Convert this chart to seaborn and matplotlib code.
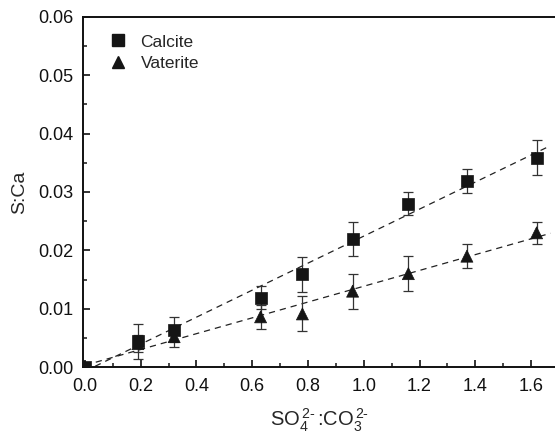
import numpy as np
import pandas as pd
import matplotlib
matplotlib.use("Agg")
import matplotlib.pyplot as plt
import seaborn as sns
from matplotlib.ticker import MultipleLocator, FormatStrFormatter
from matplotlib.lines import Line2D

ratio = [0.0, 0.19, 0.32, 0.63, 0.78, 0.96, 1.16, 1.37, 1.62]
calcite = [0.0, 0.0044, 0.0064, 0.0119, 0.0159, 0.0219, 0.0280, 0.0319, 0.0359]
calcite_err = [0.0, 0.0030, 0.0021, 0.0020, 0.0030, 0.0029, 0.0020, 0.0020, 0.0030]
vaterite = [0.0, 0.0040, 0.0052, 0.0086, 0.0091, 0.0130, 0.0160, 0.0190, 0.0230]
vaterite_err = [0.0, 0.0015, 0.0017, 0.0021, 0.0030, 0.0030, 0.0030, 0.0021, 0.0019]

sns.set_style("ticks")
plt.rcParams['font.family'] = ['Liberation Sans', 'DejaVu Sans']
plt.rcParams['mathtext.fontset'] = 'custom'
plt.rcParams['mathtext.rm'] = 'Liberation Sans'
plt.rcParams['mathtext.it'] = 'Liberation Sans'

df = pd.DataFrame({
    "x": ratio * 2,
    "y": calcite + vaterite,
    "err": calcite_err + vaterite_err,
    "phase": ["Calcite"] * len(ratio) + ["Vaterite"] * len(ratio),
})

fig = plt.figure(figsize=(5.55, 4.34), dpi=100)
ax = fig.add_axes([83/555, 67/434, 472/555, 350/434])

# fit lines
xfit = np.linspace(0, 1.67, 50)
for name in ["Calcite", "Vaterite"]:
    sub = df[df.phase == name]
    k, b = np.polyfit(sub.x, sub.y, 1)
    sns.lineplot(x=xfit, y=k * xfit + b, ax=ax, color="#222222", lw=0.9,
                 linestyle=(0, (5, 4)), legend=False)

# error bars
for name in ["Calcite", "Vaterite"]:
    sub = df[(df.phase == name) & (df.err > 0)]
    ax.errorbar(sub.x, sub.y, yerr=sub.err, fmt='none', ecolor="#333333",
                elinewidth=0.9, capsize=3.5, capthick=0.9, zorder=3)

sns.scatterplot(data=df, x="x", y="y", style="phase", markers={"Calcite": "s", "Vaterite": "^"},
                color="#151515", s=75, edgecolor="#151515", linewidth=0.5, ax=ax,
                legend=False, zorder=4)

handles = [Line2D([], [], marker="s", color="#151515", ls="none", markersize=8),
           Line2D([], [], marker="^", color="#151515", ls="none", markersize=9)]
ax.legend(handles, ["Calcite", "Vaterite"], loc="upper left", frameon=False,
          fontsize=12.5, handlelength=1.0, handletextpad=0.8, labelspacing=0.35,
          bbox_to_anchor=(0.03, 0.985), borderaxespad=0.3)

ax.set_xlim(-0.007, 1.686)
ax.set_ylim(0, 0.06)
ax.xaxis.set_major_locator(MultipleLocator(0.2))
ax.xaxis.set_minor_locator(MultipleLocator(0.1))
ax.yaxis.set_major_locator(MultipleLocator(0.01))
ax.yaxis.set_minor_locator(MultipleLocator(0.005))
ax.xaxis.set_major_formatter(FormatStrFormatter('%.1f'))
ax.yaxis.set_major_formatter(FormatStrFormatter('%.2f'))
ax.tick_params(axis='both', which='major', direction='in', length=5, width=1.2,
               labelsize=13, colors='#111111')
ax.tick_params(axis='x', which='major', pad=8)
ax.tick_params(axis='y', which='major', pad=7)
ax.tick_params(axis='both', which='minor', direction='in', length=3, width=1.2)
for s in ["left", "bottom", "top"]:
    ax.spines[s].set_linewidth(1.4)
    ax.spines[s].set_color('#111111')
ax.spines["right"].set_visible(False)
ax.tick_params(top=False, right=False, which='both')

ax.set_xlabel(r'SO$_{4}^{\,2\text{-}}\,$:CO$_{3}^{\,2\text{-}}$', fontsize=14.5)
ax.xaxis.set_label_coords(0.50, -0.114)
ax.set_ylabel('S:Ca', fontsize=14)
ax.yaxis.set_label_coords(-0.117, 0.5)

fig.savefig("out.png", dpi=100)
